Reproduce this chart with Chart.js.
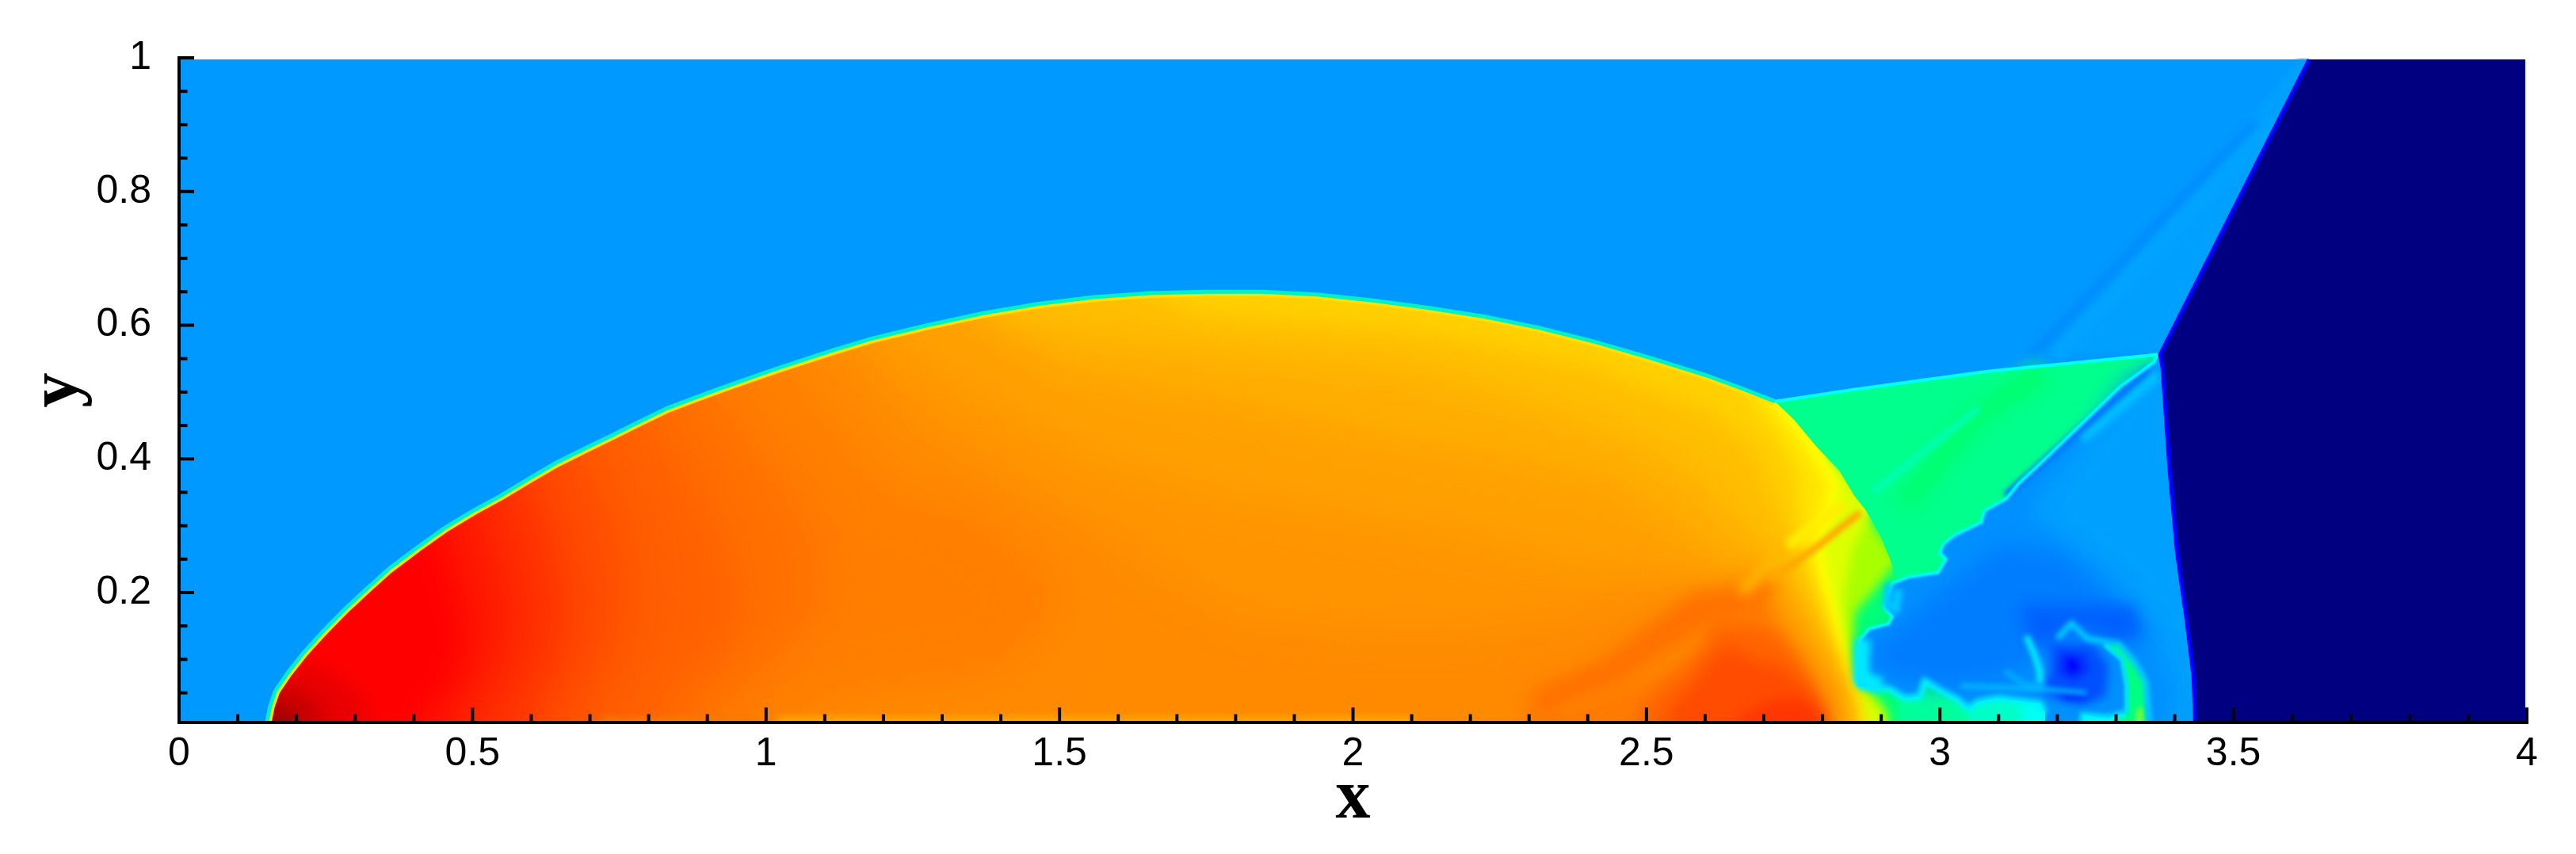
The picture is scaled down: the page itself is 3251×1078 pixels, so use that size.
<!DOCTYPE html>
<html><head><meta charset="utf-8">
<style>html,body{margin:0;padding:0;background:#fff}#w{width:3251px;height:1078px;position:relative}</style>
<script src="https://cdn.jsdelivr.net/npm/chart.js@4"></script>
</head><body><div id="w"><canvas id="c"></canvas></div>
<script>
// ---- axes ----
const xMajorTicks=[0,0.5,1,1.5,2,2.5,3,3.5,4];
const yMajorTicks=[0.2,0.4,0.6,0.8,1];
const xMinorTicks=[0.1,0.2,0.3,0.4,0.6,0.7,0.8,0.9,1.1,1.2,1.3,1.4,1.6,1.7,1.8,1.9,2.1,2.2,2.3,2.4,2.6,2.7,2.8,2.9,3.1,3.2,3.3,3.4,3.6,3.7,3.8,3.9];
const yMinorTicks=[0.05,0.1,0.15,0.25,0.3,0.35,0.45,0.5,0.55,0.65,0.7,0.75,0.85,0.9,0.95];
const xRange=[0,4], yRange=[0.0056,1];
// ---- shock outlines ----
const domeEdge=[[.1495,.006],[.155,.03],[.164,.053],[.185,.08],[.211,.109],[.245,.142],[.282,.175],[.32,.206],[.358,.236],[.405,.267],[.453,.297],[.5,.322],[.548,.345],[.595,.37],[.642,.394],[.69,.415],[.737,.435],[.785,.456],[.832,.476],[.88,.492],[.927,.507],[.975,.522],[1.021,.536],[1.07,.55],[1.116,.563],[1.18,.58],[1.275,.6],[1.37,.618],[1.464,.632],[1.559,.642],[1.655,.648],[1.75,.65],[1.844,.65],[1.939,.646],[2.034,.637],[2.128,.626],[2.223,.613],[2.318,.596],[2.413,.575],[2.507,.551],[2.602,.525],[2.667,.504],[2.719,.486]];
const domeRight=[[2.719,.486],[2.751,.459],[2.79,.418],[2.829,.382],[2.854,.345],[2.874,.323],[2.9,.282],[2.919,.241],[2.921,.225]];
const wedgeTop=[[2.719,.486],[2.855,.504],[3.081,.531],[3.371,.556]];
const wedgeLower=[[3.371,.556],[3.365,.545],[3.307,.508],[3.243,.454],[3.178,.399],[3.134,.363],[3.114,.341],[3.076,.3225],[3.07,.305],[3.025,.286],[3.006,.273],[3,.259],[3.01,.25],[2.997,.23],[2.945,.223],[2.919,.214],[2.91,.196],[2.905,.178],[2.919,.164],[2.912,.153],[2.88,.146],[2.864,.13],[2.861,.105],[2.858,.074],[2.861,.06]];
const vortexBottom=[[2.861,.06],[2.913,.056],[2.94,.042],[2.965,.044],[2.974,.0675],[3.003,.052],[3.03,.04],[3.048,.026],[3.064,.036],[3.098,.042],[3.17,.034],[3.179,.02],[3.18,-.1],[3.244,-.1],[3.244,.016],[3.287,.012],[3.318,.02]];
const navyEdge=[[3.629,.9976],[3.375,.556],[3.379,.538],[3.391,.386],[3.404,.259],[3.42,.16],[3.432,.074],[3.439,-.1]];
// ---- iso-level outlines inside the bow shock, lightest first ----
const greenBase=[[2.6,-.1],[2.6,.5],[3.5,.5],[3.5,-.1]];
const greenA=[[2.93,-.1],[2.93,.05],[3.2,.05],[3.25,-.1]];
const greenB=[[3.04,-.1],[3.05,.05],[3.3,.06],[3.3,-.1]];
const greenC=[[3.13,-.1],[3.14,.035],[3.3,.04],[3.32,-.1]];
const lime0=[[0,.8],[2.72,.8],[2.72,.49],[2.93,.25],[2.885,.2],[2.855,.17],[2.85,.1],[2.85,.07],[2.885,.05],[2.91,.02],[2.92,-.1],[0,-.1]];
const lime1=[[0,.8],[2.72,.8],[2.72,.49],[2.89,.33],[2.85,.265],[2.835,.186],[2.84,.12],[2.845,.075],[2.875,.045],[2.9,.02],[2.905,-.1],[0,-.1]];
const yellow0=[[0,.8],[2.72,.8],[2.72,.5],[2.79,.43],[2.83,.36],[2.8,.265],[2.82,.186],[2.84,.107],[2.85,.07],[2.865,.03],[2.875,-.1],[0,-.1]];
const gold0=[[0,.8],[2.68,.8],[2.7,.5],[2.77,.42],[2.81,.36],[2.78,.265],[2.805,.186],[2.825,.107],[2.84,.06],[2.86,.03],[2.865,-.1],[0,-.1]];
const iso1=[[0,.8],[2.6,.8],[2.62,.56],[2.72,.44],[2.76,.38],[2.76,.265],[2.79,.186],[2.815,.107],[2.835,.06],[2.85,.028],[2.855,-.1],[0,-.1]];
const iso2=[[0,.8],[1.5,.7],[1.75,.615],[2.1,.59],[2.4,.54],[2.6,.47],[2.68,.42],[2.74,.3],[2.77,.186],[2.805,.107],[2.83,.05],[2.85,-.1],[0,-.1]];
const iso3=[[0,.8],[1.2,.7],[1.4,.6],[1.75,.565],[2.1,.53],[2.35,.47],[2.5,.42],[2.6,.36],[2.66,.3],[2.7,.27],[2.75,.186],[2.795,.107],[2.825,.05],[2.84,-.1],[0,-.1]];
const iso4=[[0,.8],[1.25,.68],[1.5,.53],[1.75,.49],[2,.44],[2.25,.4],[2.45,.36],[2.55,.3],[2.62,.25],[2.7,.22],[2.735,.186],[2.785,.107],[2.82,.05],[2.835,-.1],[0,-.1]];
const iso5=[[0,.8],[1.15,.6],[1.35,.49],[1.55,.4],[1.75,.35],[2,.31],[2.2,.28],[2.38,.24],[2.55,.22],[2.66,.2],[2.715,.18],[2.77,.107],[2.815,.04],[2.83,-.1],[0,-.1]];
const iso6=[[0,.8],[1.1,.6],[1.25,.45],[1.42,.36],[1.55,.3],[1.8,.16],[2,.14],[2.2,.14],[2.35,.155],[2.5,.19],[2.6,.2],[2.7,.17],[2.75,.107],[2.81,.04],[2.825,-.1],[0,-.1]];
const iso7=[[0,.8],[.98,.6],[1.1,.48],[1.2,.36],[1.35,.32],[1.5,.22],[1.48,.15],[1.4,.08],[1.2,.05],[1.05,.02],[.95,-.1],[0,-.1]];
const iso8=[[0,.8],[.88,.55],[.98,.42],[1.08,.3],[1.1,.18],[1.02,.1],[.92,.03],[.85,-.1],[0,-.1]];
const iso9=[[0,.8],[.78,.5],[.86,.4],[.94,.25],[.95,.14],[.85,.05],[.78,-.1],[0,-.1]];
const iso10=[[0,.8],[.67,.45],[.74,.34],[.77,.22],[.76,.12],[.7,.04],[.66,-.1],[0,-.1]];
const iso11=[[0,.8],[.58,.4],[.63,.3],[.66,.2],[.65,.1],[.6,.03],[.56,-.1],[0,-.1]];
const iso12=[[0,.8],[.5,.36],[.54,.27],[.57,.17],[.55,.09],[.5,.03],[.47,-.1],[0,-.1]];
const iso13=[[0,.8],[.42,.33],[.47,.22],[.49,.13],[.47,.06],[.42,.02],[.4,-.1],[0,-.1]];
const core1=[[.1,.1],[.19,.1],[.24,.09],[.29,.06],[.32,.03],[.33,-.1],[.1,-.1]];
const core2=[[.1,.06],[.17,.06],[.21,.05],[.24,.03],[.26,-.1],[.1,-.1]];
const core3=[[.12,.03],[.17,.03],[.2,.018],[.21,-.1],[.12,-.1]];
const lobe1=[[2.26,-.1],[2.3,.04],[2.42,.09],[2.53,.16],[2.58,.2],[2.62,.19],[2.66,.2],[2.7,.2],[2.72,.15],[2.75,.1],[2.8,.03],[2.82,-.1]];
const lobe2=[[2.42,-.1],[2.5,.04],[2.55,.075],[2.59,.11],[2.62,.15],[2.68,.15],[2.72,.14],[2.76,.1],[2.8,.03],[2.815,-.1]];
const lobe3=[[2.49,-.1],[2.54,.03],[2.58,.065],[2.61,.1],[2.64,.12],[2.68,.1],[2.73,.09],[2.77,.06],[2.8,.02],[2.81,-.1]];
const lobe4=[[2.62,-.1],[2.66,.015],[2.72,.04],[2.77,.04],[2.795,.015],[2.8,-.1]];
const shearDark=[[2.31,.035],[2.44,.08],[2.53,.14],[2.6,.18],[2.66,.19],[2.71,.218]];
const shearLight=[[2.35,.03],[2.5,.085],[2.6,.13]];
const slipLow=[[2.66,.2],[2.74,.27]];
const slipHigh=[[2.74,.27],[2.836,.332]];
const slipOrange=[[2.71,.218],[2.8,.275],[2.864,.32]];
const floorStripA=[[.72,.006],[.98,.006]];
const floorStripB=[[1.02,.006],[1.5,.006],[2.1,.006]];
// ---- right-hand structures ----
const skyOutside=[[-.1,-.1],[.1495,-.1],...domeEdge,...wedgeTop.slice(1),[3.7,.56],[3.7,.9976],[-.1,.9976]];
const skyBand=[[3.2,.555],[3.375,.56],[3.629,.9976],[3.61,.9976]];
const skyDarkStreak=[[3.153,.552],[3.538,.905]];
const skyLightStreak=[[3.194,.552],[3.571,.905]];
const wedgeFill=[...wedgeTop,...wedgeLower.slice(1,15),[2.921,.225],...[...domeRight].reverse()];
const wedgeCyan=[[2.885,.35],[3.067,.477]];
const wedgeDeep=[[2.938,.332],[3.06,.463],[3.177,.531]];
const blueRegion=[...wedgeLower,...vortexBottom.slice(1),[3.36,-.1],[3.5,-.1],[3.5,.6]];
const blueOuter=[[3.32,.52],[3.2,.38],[3.15,.32],[3.3,.22],[3.37,.13],[3.4,.05],[3.37,-.1],[3.5,-.1],[3.5,.6]];
const blueDarkStreak=[[3.357,.535],[3.112,.345]];
const blueLightStreak=[[3.37,.527],[3.24,.431]];
const blueMid=[[2.92,.14],[3,.2],[3.1,.27],[3.2,.26],[3.28,.2],[3.36,.14],[3.33,.12],[3.2,.12],[3.1,.07],[3,.06],[2.9,.08],[2.88,.12]];
const blueRing=[[3.14,.18],[3.25,.18],[3.33,.18],[3.34,.135],[3.3,.13],[3.22,.155],[3.19,.12],[3.15,.13]];
const eye1=[[3.188,.123],[3.26,.123],[3.287,.091],[3.282,.044],[3.242,.032],[3.188,.044],[3.17,.056],[3.188,.08]];
const eye2=[[3.206,.111],[3.246,.107],[3.255,.083],[3.228,.067],[3.2,.08]];
const eye3=[[3.215,.103],[3.233,.099],[3.237,.083],[3.219,.079]];
const eye4=[[3.197,.052],[3.242,.052],[3.255,.042],[3.215,.04]];
const curlArc=[[3.2,.131],[3.224,.154],[3.251,.131],[3.305,.123],[3.332,.095],[3.35,.067],[3.357,.005]];
const curlInner=[[3.147,.135],[3.161,.107],[3.17,.083],[3.17,.063]];
const streakA=[[3.11,.083],[3.143,.063],[3.179,.059]];
const streakB=[[3.035,.06],[3.17,.056],[3.25,.05]];
const hookLeft=[[2.913,.214],[2.909,.182],[2.925,.175],[2.93,.205]];
const rimLeft=[[2.868,.13],[2.866,.1],[2.866,.072],[2.9,.06]];
const arcInner=[[3.318,.02],[3.318,.06],[3.31,.1],[3.28,.122]];
const arcPatch=[[3.318,-.1],[3.318,.06],[3.31,.1],[3.28,.122],[3.305,.123],[3.332,.095],[3.35,.067],[3.357,-.1]];
const arcHot=[[3.33,-.1],[3.335,.025],[3.345,.03],[3.352,-.1]];
const navyFill=[...navyEdge,[3.9973,-.1],[3.9973,.9976]];

const P=a=>a.map(([x,y])=>({x,y}));
// fills: [points, colour, blur]   strokes: [points, colour, width, blur]
const paint=[];
const F=(pts,color,blur=0)=>paint.push({pts,color,blur,fill:true});
const S=(pts,color,width,blur=0,tension=0)=>paint.push({pts,color,width,blur,fill:false,tension});

F(greenBase,'#00ff78',0);
F(greenA,'#00ff9c',6);F(greenB,'#00ffc8',6);F(greenC,'#00fff0',5);
F(lime0,'#a8ff00',7);F(lime1,'#ddff00',7);F(yellow0,'#ffff00',7);F(gold0,'#ffe400',8);
F(iso1,'#ffd000',9);F(iso2,'#ffbe00',14);F(iso3,'#ffae00',20);F(iso4,'#ffa000',22);F(iso5,'#ff9400',24);F(iso6,'#ff8a00',24);
F(iso7,'#ff7e00',30);F(iso8,'#ff7000',30);F(iso9,'#ff6000',30);F(iso10,'#ff4c00',30);F(iso11,'#ff3000',28);F(iso12,'#ff1800',26);F(iso13,'#ff0000',22);
F(core1,'#e80000',14);F(core2,'#c80000',10);F(core3,'#a80000',7);
F(lobe1,'#ff7c00',10);S(shearLight,'#ff8800',22,9);F(lobe2,'#ff6400',10);S(shearDark,'#ff7000',30,12);F(lobe3,'#ff4c00',10);F(lobe4,'#ff3600',9);
S(slipLow,'#ffb800',16,8);S(slipHigh,'#ffee00',14,4);S(slipOrange,'#ffa800',9,3);
S(floorStripA,'#ff7800',12,5);S(floorStripB,'#ffa800',14,5);
S(domeEdge,'#ffe000',12,0);
F(skyOutside,'#0099ff',0);
F(skyBand,'#00a0ff',3);S(skyLightStreak,'#00a4ff',20,5);S(skyDarkStreak,'#008cff',10,4);
F(wedgeFill,'#00ff8c',0);
S(wedgeDeep,'#00ff70',30,10);S(wedgeCyan,'#00ffb0',9,3);
F(blueRegion,'#0090ff',0);
F(blueOuter,'#00a0ff',14);S(blueLightStreak,'#00c0ff',16,4);S(blueDarkStreak,'#0078ff',10,3);
F(blueMid,'#007cff',14);F(blueRing,'#0060ff',9);F(eye1,'#0050ff',6);F(eye2,'#0030ff',5);F(eye3,'#0000ff',4);F(eye4,'#0020ff',5);
S(wedgeLower,'#00ffff',4,1);S(vortexBottom.slice(0,12),'#00f0ff',8,3);S(vortexBottom.slice(13),'#00f0ff',8,3);
S(rimLeft,'#00e8ff',20,4);S(hookLeft,'#00c8ff',10,3);
F(arcPatch,'#00ff80',2);F(arcHot,'#88ff30',3);
S(curlArc,'#00d0ff',7,3);S(arcInner,'#00e8ff',5,2);S(curlInner,'#00f0ff',8,3);S(streakA,'#00b0ff',6,3);S(streakB,'#00b8ff',6,3);
F(navyFill,'#000080',0);
S(navyEdge,'#0000ff',5,0);
S(wedgeTop,'#00ffff',4,0);
S(domeEdge,'#00f0c8',5,0);

const ds=paint.map((p,i)=>({
  type:'scatter',showLine:true,data:P(p.pts),pointRadius:0,tension:p.tension||0,
  fill:p.fill?'shape':false,backgroundColor:p.color,borderColor:p.color,
  borderWidth:p.fill?0:p.width,blur:p.blur,clip:{left:0,right:0,top:0,bottom:0}
}));
// tick marks
const tick=(pts,rot,r)=>({type:'scatter',data:pts,pointStyle:'line',pointRotation:rot,pointRadius:r,pointBorderWidth:4,
  pointBorderColor:'#000',pointBackgroundColor:'#000',blur:0,clip:{left:2,right:2,top:2,bottom:2}});
ds.push(tick(xMajorTicks.map(x=>({x,y:yRange[0]})),90,19));
ds.push(tick(xMinorTicks.map(x=>({x,y:yRange[0]})),90,10.5));
ds.push(tick(yMajorTicks.map(y=>({x:xRange[0],y})),0,19));
ds.push(tick(yMinorTicks.map(y=>({x:xRange[0],y})),0,10.5));
// index 0 is painted last by Chart.js, so hand them over reversed
ds.reverse();

const blurPlugin={id:'softField',
  beforeDatasetsDraw(ch){const n=ch.data.datasets.length;ch.ctx.filter=f(ch.data.datasets[n-1]);},
  afterDatasetDraw(ch,a){const d=ch.data.datasets[a.index-1];ch.ctx.filter=d?f(d):'none';},
  afterDatasetsDraw(ch){ch.ctx.filter='none';}};
function f(d){return d.blur?`blur(${d.blur}px)`:'none';}

const tickFont={family:'"Liberation Sans"',size:50};
const titleFont={family:'"Liberation Serif"',weight:'bold',size:88};
new Chart(document.getElementById('c'),{
  data:{datasets:ds},plugins:[blurPlugin],
  options:{responsive:true,maintainAspectRatio:false,animation:false,events:[],
    layout:{padding:{top:73,right:62,left:0,bottom:0}},
    plugins:{legend:{display:false},tooltip:{enabled:false},title:{display:false}},
    scales:{
      x:{type:'linear',position:'bottom',min:xRange[0],max:xRange[1],
        afterBuildTicks:s=>{s.ticks=xMajorTicks.map(value=>({value}));},
        afterFit:s=>{s.height=166;},
        grid:{drawOnChartArea:false,drawTicks:false},border:{display:true,color:'#000',width:4,z:2},
        ticks:{font:tickFont,color:'#000',padding:10,maxRotation:0,autoSkip:false,callback:v=>String(v)},
        title:{display:true,text:'x',color:'#000',font:titleFont,padding:{top:0,bottom:16}}},
      y:{type:'linear',position:'left',min:yRange[0],max:yRange[1],
        afterBuildTicks:s=>{s.ticks=yMajorTicks.map(value=>({value}));},
        afterFit:s=>{s.width=226;},
        grid:{drawOnChartArea:false,drawTicks:false},border:{display:true,color:'#000',width:4,z:2},
        ticks:{font:tickFont,color:'#000',padding:35,autoSkip:false,callback:v=>String(v)},
        title:{display:true,text:'y',color:'#000',font:titleFont,padding:{top:21,bottom:0}}}
    }}
});
</script></body></html>
